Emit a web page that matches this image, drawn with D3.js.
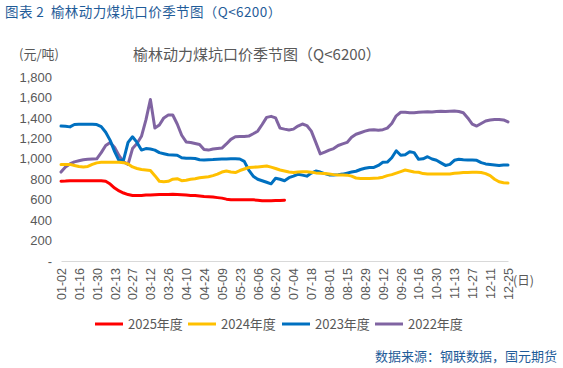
<!DOCTYPE html>
<html>
<head>
<meta charset="utf-8">
<script src="https://cdn.jsdelivr.net/npm/d3@7"></script>
<style>
  html, body { margin: 0; padding: 0; background: #fff; }
  svg { display: block; font-family: "Noto Sans CJK SC", "Noto Sans", sans-serif; }
  text { white-space: pre; }
</style>
</head>
<body>
<svg id="chart" width="563" height="368"></svg>
<script>
// x-axis category labels (one label every 10 trading days)
const xLabels = ["01-02","01-16","01-30","02-13","02-27","03-12","03-26","04-10","04-24","05-09",
  "05-23","06-06","06-20","07-04","07-18","08-01","08-15","08-29","09-12","09-26",
  "10-16","10-30","11-13","11-27","12-11","12-25"];
const yTicks = [0,200,400,600,800,1000,1200,1400,1600,1800];
const seriesNames = ["2025年度","2024年度","2023年度","2022年度"];
const seriesColors = ["#FF0000","#FFC000","#0070C0","#8064A2"];

// values sampled every quarter of a label interval (101 samples over the year)
const v2025 = [780,782,785,785,785,785,785,785,785,785,780,753,714,685,665,650,641,640,640,645,
  645,648,650,650,650,652,650,648,645,640,640,635,630,628,625,620,615,605,600,600,
  598,598,600,598,595,590,590,590,592,592,595];
const v2024 = [945,945,945,935,925,920,925,945,960,965,965,965,965,965,962,950,920,905,895,890,
  885,835,780,775,780,800,805,786,790,800,805,815,820,825,835,850,870,880,870,865,
  885,900,915,918,920,925,930,918,905,890,880,870,866,870,874,872,868,862,858,855,
  850,845,842,842,840,830,812,808,808,808,810,812,820,835,845,860,875,890,880,870,
  868,855,850,850,850,850,850,852,858,862,865,866,868,868,866,855,835,800,775,765,762];
const v2023 = [1320,1318,1312,1335,1338,1338,1338,1338,1335,1315,1260,1180,1070,980,990,1160,1215,1160,1085,1100,
  1095,1085,1060,1050,1040,1038,1035,1010,1005,1005,1003,990,988,990,992,995,997,998,1000,1000,
  998,975,890,830,800,785,770,755,810,800,785,815,830,848,840,830,860,880,870,855,
  842,842,845,850,860,870,878,895,907,915,915,935,965,968,1010,1078,1035,1040,1068,1060,
  995,1000,1020,998,985,960,935,945,985,995,990,988,988,985,962,950,945,940,935,940,940];
const v2022 = [870,920,950,970,980,990,995,998,1000,1060,1130,1160,1110,1030,970,945,1100,1150,1220,1380,
  1580,1300,1330,1400,1428,1428,1340,1230,1165,1160,1150,1140,1090,1085,1095,1100,1105,1145,1190,1215,
  1218,1218,1222,1245,1270,1335,1405,1415,1400,1300,1290,1282,1290,1320,1340,1325,1270,1160,1048,1065,
  1085,1100,1130,1145,1160,1210,1240,1255,1270,1282,1285,1280,1285,1300,1345,1420,1455,1455,1450,1450,
  1455,1458,1460,1458,1462,1465,1462,1465,1468,1462,1450,1400,1340,1320,1345,1370,1380,1385,1385,1380,1360];

const seriesValues = [v2025, v2024, v2023, v2022];

const svg = d3.select("#chart");
const mLeft = 61, mRight = 508, mTop = 77, mBottom = 261;
const x = d3.scaleLinear().domain([0, 100]).range([mLeft, mRight]);
const y = d3.scaleLinear().domain([0, 1800]).range([mBottom, mTop]);

// header
svg.append("text").attr("x", 5).attr("y", 17)
  .attr("font-size", 13.5).attr("fill", "#1F5C99").attr("letter-spacing", 0.4)
  .text("图表 2  榆林动力煤坑口价季节图（Q<6200）");

// unit
svg.append("text").attr("x", 19).attr("y", 59)
  .attr("font-size", 13).attr("fill", "#595959").text("(元/吨)");

// title
svg.append("text").attr("x", 257).attr("y", 60).attr("text-anchor", "middle")
  .attr("font-size", 15).attr("fill", "#595959").text("榆林动力煤坑口价季节图（Q<6200）");

// y axis
const yAxis = d3.axisLeft(y).tickValues(yTicks)
  .tickFormat(d => d === 0 ? "-" : d3.format(",")(d)).tickSize(0).tickPadding(0);
const gy = svg.append("g").attr("transform", `translate(${mLeft - 9},0)`).call(yAxis);
gy.select(".domain").remove();
gy.selectAll("text").attr("font-size", 13).attr("fill", "#595959")
  .attr("font-family", "'Liberation Sans', Arial, sans-serif");

// x axis
const xAxis = d3.axisBottom(x).tickValues(xLabels.map((d, i) => i * 4))
  .tickFormat((d, i) => xLabels[i]).tickSize(0);
const gx = svg.append("g").attr("transform", `translate(0,${mBottom})`).call(xAxis);
gx.select(".domain").attr("stroke", "#D9D9D9").attr("stroke-width", 1);
gx.selectAll("text")
  .attr("font-size", 12.5).attr("fill", "#595959")
  .attr("font-family", "'Liberation Sans', Arial, sans-serif")
  .attr("text-anchor", "end")
  .attr("transform", "translate(0,7) rotate(-90)")
  .attr("x", 0).attr("y", 0).attr("dy", "0.35em");

svg.append("text").attr("x", 513).attr("y", 285)
  .attr("font-size", 12.5).attr("fill", "#595959").text("(日)");

// lines
const line = d3.line().x((d, i) => x(i)).y(d => y(d));
[3, 2, 1, 0].forEach(k => {
  svg.append("path").datum(seriesValues[k])
    .attr("fill", "none").attr("stroke", seriesColors[k])
    .attr("stroke-width", 3).attr("stroke-linejoin", "round").attr("stroke-linecap", "round")
    .attr("d", line);
});

// legend
const legX = [95, 188, 282, 375];
seriesNames.forEach((n, i) => {
  const g = svg.append("g").attr("transform", `translate(${legX[i]},324)`);
  g.append("line").attr("x1", 0).attr("x2", 28).attr("y1", 0).attr("y2", 0)
    .attr("stroke", seriesColors[i]).attr("stroke-width", 3);
  g.append("text").attr("x", 33).attr("y", 5).attr("font-size", 13)
    .attr("fill", "#595959").text(n);
});

// source
svg.append("text").attr("x", 557).attr("y", 361).attr("text-anchor", "end")
  .attr("font-size", 13).attr("fill", "#1F5C99").text("数据来源：钢联数据，国元期货");
</script>
</body>
</html>
